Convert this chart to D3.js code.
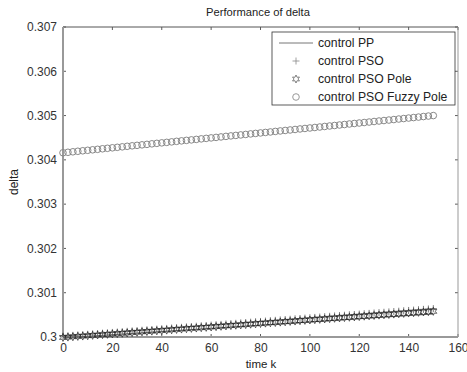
<!DOCTYPE html>
<html><head><meta charset="utf-8">
<script src="https://cdn.jsdelivr.net/npm/d3@7"></script>
<style>body{margin:0;background:#fff}svg{display:block}text{font-family:"Liberation Sans",Arial,sans-serif}</style>
</head><body><svg id="c" width="467" height="372"></svg>
<script>
const title = "Performance of delta";
const xLabel = "time k", yLabel = "delta";
const xTicks = [0,20,40,60,80,100,120,140,160];
const yTicks = [0.3,0.301,0.302,0.303,0.304,0.305,0.306,0.307];
const seriesNames = ["control PP","control PSO","control PSO Pole","control PSO Fuzzy Pole"];
const kLine = [0,10,20,30,40,50,60,70,80,90,100,110,120,130,140,150];
const ppValues = [0.299980,0.300016,0.300052,0.300088,0.300124,0.300160,0.300196,0.300232,0.300268,0.300304,0.300340,0.300376,0.300412,0.300448,0.300484,0.300520];
const kMarkers = d3.range(0,151,2);
const psoValues = [0.300020,0.300028,0.300037,0.300045,0.300053,0.300061,0.300070,0.300078,0.300086,0.300094,0.300103,0.300111,0.300119,0.300128,0.300136,0.300144,0.300152,0.300161,0.300169,0.300177,0.300185,0.300194,0.300202,0.300210,0.300218,0.300227,0.300235,0.300243,0.300252,0.300260,0.300268,0.300276,0.300285,0.300293,0.300301,0.300309,0.300318,0.300326,0.300334,0.300343,0.300351,0.300359,0.300367,0.300376,0.300384,0.300392,0.300400,0.300409,0.300417,0.300425,0.300433,0.300442,0.300450,0.300458,0.300467,0.300475,0.300483,0.300491,0.300500,0.300508,0.300516,0.300524,0.300533,0.300541,0.300549,0.300558,0.300566,0.300574,0.300582,0.300591,0.300599,0.300607,0.300615,0.300624,0.300632,0.300640];
const poleValues = [0.299990,0.299998,0.300005,0.300014,0.300021,0.300029,0.300037,0.300045,0.300053,0.300061,0.300069,0.300077,0.300084,0.300092,0.300100,0.300108,0.300116,0.300124,0.300132,0.300140,0.300147,0.300155,0.300163,0.300171,0.300179,0.300187,0.300195,0.300202,0.300210,0.300218,0.300226,0.300234,0.300242,0.300250,0.300258,0.300265,0.300273,0.300281,0.300289,0.300297,0.300305,0.300313,0.300321,0.300328,0.300336,0.300344,0.300352,0.300360,0.300368,0.300376,0.300384,0.300391,0.300399,0.300407,0.300415,0.300423,0.300431,0.300439,0.300446,0.300454,0.300462,0.300470,0.300478,0.300486,0.300494,0.300502,0.300509,0.300517,0.300525,0.300533,0.300541,0.300549,0.300557,0.300565,0.300572,0.300580];
const fuzzyValues = [0.304160,0.304171,0.304182,0.304194,0.304205,0.304216,0.304227,0.304238,0.304250,0.304261,0.304272,0.304283,0.304294,0.304306,0.304317,0.304328,0.304339,0.304350,0.304362,0.304373,0.304384,0.304395,0.304406,0.304418,0.304429,0.304440,0.304451,0.304462,0.304474,0.304485,0.304496,0.304507,0.304518,0.304530,0.304541,0.304552,0.304563,0.304574,0.304586,0.304597,0.304608,0.304619,0.304630,0.304642,0.304653,0.304664,0.304675,0.304686,0.304698,0.304709,0.304720,0.304731,0.304742,0.304754,0.304765,0.304776,0.304787,0.304798,0.304810,0.304821,0.304832,0.304843,0.304854,0.304866,0.304877,0.304888,0.304899,0.304910,0.304922,0.304933,0.304944,0.304955,0.304966,0.304978,0.304989,0.305000];

const svg = d3.select("#c");
const L=63,R=458,T=27,B=337;
const x = d3.scaleLinear().domain([0,160]).range([L,R]);
const y = d3.scaleLinear().domain([0.3,0.307]).range([B,T]);

const plus = "M-3.5,0H3.5M0,-3.5V3.5";
function hexagram(r){const p=[];for(let i=0;i<12;i++){const a=Math.PI/6*i-Math.PI/2;const rr=i%2?r*0.5:r;p.push([rr*Math.cos(a),rr*Math.sin(a)]);}return "M"+p.map(q=>q[0].toFixed(2)+","+q[1].toFixed(2)).join("L")+"Z";}
const hex = hexagram(4);

// title & labels
svg.append("text").attr("x",258).attr("y",16).attr("text-anchor","middle").attr("font-size",11.2).attr("fill","#222").text(title);
svg.append("text").attr("x",261).attr("y",368).attr("text-anchor","middle").attr("font-size",11.5).attr("fill","#222").text(xLabel);
svg.append("text").attr("transform","translate(18,182) rotate(-90)").attr("text-anchor","middle").attr("font-size",12).attr("fill","#222").text(yLabel);

// axes
const gx = svg.append("g").attr("transform",`translate(0,${B})`).call(d3.axisBottom(x).tickValues(xTicks).tickSize(0).tickPadding(6).tickFormat(d3.format("d")));
const gy = svg.append("g").attr("transform",`translate(${L},0)`).call(d3.axisLeft(y).tickValues(yTicks).tickSize(0).tickPadding(6).tickFormat(d=>d===0.3?"0.3":d3.format(".3f")(d)));
[gx,gy].forEach(g=>{g.select(".domain").remove();g.selectAll("text").attr("font-size",12).attr("fill","#333").attr("font-family","Liberation Sans, Arial, sans-serif");});
// inward ticks on all sides
const tk = svg.append("g").attr("stroke","#333").attr("stroke-width",0.8);
xTicks.forEach(t=>{tk.append("line").attr("x1",x(t)).attr("x2",x(t)).attr("y1",B).attr("y2",B-3);tk.append("line").attr("x1",x(t)).attr("x2",x(t)).attr("y1",T).attr("y2",T+3);});
yTicks.forEach(t=>{tk.append("line").attr("y1",y(t)).attr("y2",y(t)).attr("x1",L).attr("x2",L+3);tk.append("line").attr("y1",y(t)).attr("y2",y(t)).attr("x1",R).attr("x2",R-3);});
// frame
svg.append("line").attr("x1",L).attr("x2",R).attr("y1",T).attr("y2",T).attr("stroke","#555").attr("stroke-width",1);
svg.append("line").attr("x1",R).attr("x2",R).attr("y1",T).attr("y2",B).attr("stroke","#999").attr("stroke-width",1);
svg.append("line").attr("x1",L).attr("x2",R).attr("y1",B).attr("y2",B).attr("stroke","#999").attr("stroke-width",2);
svg.append("line").attr("x1",L).attr("x2",L).attr("y1",T).attr("y2",B).attr("stroke","#999").attr("stroke-width",2);

// data
const plot = svg.append("g");
const line = d3.line().x(d=>x(d[0])).y(d=>y(d[1]));
plot.append("path").attr("d",line(kLine.map((k,i)=>[k,ppValues[i]]))).attr("fill","none").attr("stroke","#666").attr("stroke-width",1);
plot.append("g").selectAll("path").data(kMarkers.map((k,i)=>[k,psoValues[i]])).join("path")
  .attr("transform",d=>`translate(${x(d[0])},${y(d[1])})`).attr("d",plus).attr("stroke","#555").attr("stroke-width",0.8).attr("fill","none");
plot.append("g").selectAll("path").data(kMarkers.map((k,i)=>[k,poleValues[i]])).join("path")
  .attr("transform",d=>`translate(${x(d[0])},${y(d[1])})`).attr("d",hex).attr("stroke","#222").attr("stroke-width",0.7).attr("fill","none");
plot.append("g").selectAll("circle").data(kMarkers.map((k,i)=>[k,fuzzyValues[i]])).join("circle")
  .attr("cx",d=>x(d[0])).attr("cy",d=>y(d[1])).attr("r",3.3).attr("stroke","#888").attr("stroke-width",1).attr("fill","none");

// legend
const lg = svg.append("g");
lg.append("rect").attr("x",272).attr("y",32).attr("width",183).attr("height",73).attr("fill","#fff").attr("stroke","#333").attr("stroke-width",0.8);
const ly = [43,61,79,97];
seriesNames.forEach((n,i)=>lg.append("text").attr("x",318).attr("y",ly[i]+4).attr("font-size",12.2).attr("fill","#222").text(n));
lg.append("line").attr("x1",279).attr("x2",313).attr("y1",ly[0]).attr("y2",ly[0]).attr("stroke","#777");
lg.append("path").attr("transform",`translate(296,${ly[1]})`).attr("d",plus).attr("stroke","#888").attr("stroke-width",0.8);
lg.append("path").attr("transform",`translate(296,${ly[2]})`).attr("d",hex).attr("stroke","#555").attr("stroke-width",0.7).attr("fill","none");
lg.append("circle").attr("cx",296).attr("cy",ly[3]).attr("r",3.3).attr("stroke","#999").attr("fill","none");
</script></body></html>
